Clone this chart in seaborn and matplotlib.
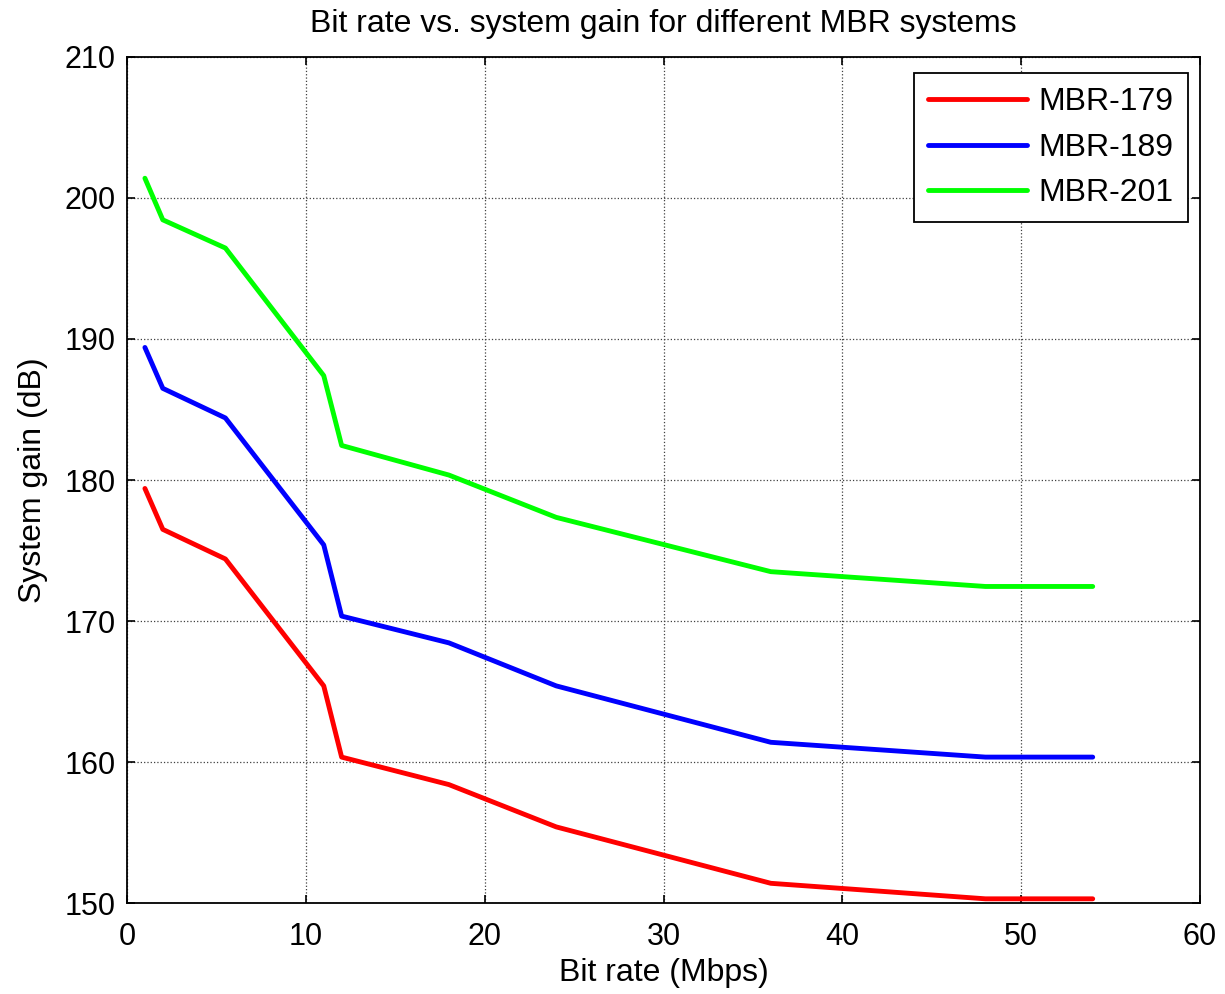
import matplotlib

matplotlib.use("Agg")

import matplotlib.pyplot as plt
import seaborn as sns
import pandas as pd

# Bit rates (Mbps)
bit_rate = [1, 2, 5.5, 11, 12, 18, 24, 36, 48, 54]

# System gain (dB) for each MBR system
gain_179 = [179.4, 176.5, 174.4, 165.4, 160.35, 158.4, 155.4, 151.4, 150.3, 150.3]
gain_189 = [189.4, 186.5, 184.4, 175.4, 170.35, 168.45, 165.4, 161.4, 160.35, 160.35]
gain_201 = [201.4, 198.45, 196.45, 187.4, 182.45, 180.35, 177.35, 173.5, 172.45, 172.45]

series_names = ["MBR-179", "MBR-189", "MBR-201"]
series_colors = ["#ff0000", "#0000ff", "#00ff00"]

x_ticks = [0, 10, 20, 30, 40, 50, 60]
y_ticks = [150, 160, 170, 180, 190, 200, 210]

# long format table for seaborn
df = pd.concat([
    pd.DataFrame({"rate": bit_rate, "gain": g, "system": name})
    for g, name in zip([gain_179, gain_189, gain_201], series_names)
])

sns.set_style("ticks")
plt.rcParams["font.family"] = ["Liberation Sans", "DejaVu Sans"]
plt.rcParams["text.color"] = "black"
plt.rcParams["axes.labelcolor"] = "black"
plt.rcParams["xtick.color"] = "black"
plt.rcParams["ytick.color"] = "black"

fig = plt.figure(figsize=(12.25, 9.94), dpi=100)
ax = fig.add_axes([0.1037, 0.0915, 0.8759, 0.8512])

sns.lineplot(
    data=df,
    x="rate",
    y="gain",
    hue="system",
    hue_order=series_names,
    palette=series_colors,
    linewidth=3.5,
    ax=ax
)

ax.set_xlim(0, 60)
ax.set_ylim(150, 210)
ax.set_xticks(x_ticks)
ax.set_yticks(y_ticks)

# MATLAB look: dotted grid, ticks inside on every side
ax.grid(True, linestyle=":", color="#404040", linewidth=0.9)
ax.tick_params(direction="in", top=True, right=True, length=6, width=1.2,
               labelsize=22, colors="black")
ax.tick_params(axis="x", pad=14)
ax.tick_params(axis="y", pad=8)
for spine in ax.spines.values():
    spine.set_visible(True)
    spine.set_linewidth(1.3)
    spine.set_color("black")

ax.set_title("Bit rate vs. system gain for different MBR systems",
             fontsize=23, pad=18, color="black")
ax.set_xlabel("Bit rate (Mbps)", fontsize=23, labelpad=4)
ax.set_ylabel("System gain (dB)", fontsize=23, labelpad=12)

leg = ax.legend(
    loc="upper right",
    bbox_to_anchor=(0.9888, 0.981),
    borderaxespad=0,
    fontsize=23,
    frameon=True,
    fancybox=False,
    edgecolor="black",
    framealpha=1,
    handlelength=3.1,
    borderpad=0.45,
    labelspacing=0.48,
    handletextpad=0.35
)
leg.get_frame().set_linewidth(1.3)
for t in leg.get_texts():
    t.set_color("black")

plt.savefig("out.png", dpi=100)
plt.close()
